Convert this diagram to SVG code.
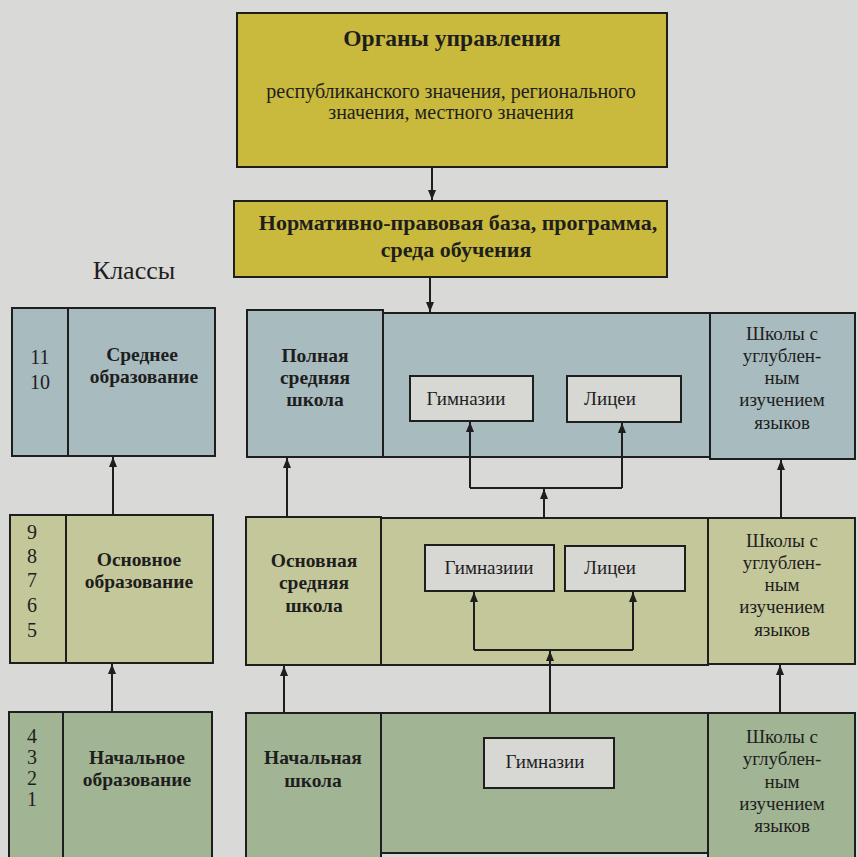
<svg xmlns="http://www.w3.org/2000/svg" width="858" height="857" viewBox="0 0 858 857" font-family="Liberation Serif, DejaVu Serif, serif">
<style>
.b{stroke:#1e1e1e;stroke-width:2}
.y{fill:#c9b93c}
.r1{fill:#a8bbbe}
.r2{fill:#c4c799}
.r3{fill:#a1b493}
.in{fill:#d7d7d4}
text{font-family:'Liberation Serif','DejaVu Serif',serif;fill:#1e1e1e;text-anchor:middle}
.t{font-weight:bold;font-size:19.5px}
.n{font-size:20px}
.s{font-size:19px}
.c{stroke:#1e1e1e;stroke-width:2;fill:none}
</style>
<defs>
<marker id="ah" markerUnits="userSpaceOnUse" markerWidth="10" markerHeight="10" viewBox="0 0 10 10" refX="10" refY="5" orient="auto">
<path d="M0,1 L10,5 L0,9 Z" fill="#1e1e1e"/>
</marker>
</defs>
<rect width="858" height="857" fill="#d9d9d7"/>

<g id="organy">
<rect class="b y" x="237" y="13" width="430" height="154"/>
<text x="452" y="46" style="font-weight:bold;font-size:23.5px">Органы управления</text>
<text x="451" y="98" class="n">республиканского значения, регионального</text>
<text x="451" y="119" class="n">значения, местного значения</text>
</g>

<g id="norm">
<rect class="b y" x="234" y="201" width="433" height="76"/>
<text x="458" y="230" class="t" style="font-size:22px">Нормативно-правовая база, программа,</text>
<text x="456" y="257" class="t" style="font-size:22px">среда обучения</text>
</g>

<g id="klassy">
<text x="134" y="279" style="font-size:26px">Классы</text>
</g>

<g id="row1-left">
<rect class="b r1" x="12" y="308" width="203" height="148"/>
<line class="b" x1="68" y1="308" x2="68" y2="456"/>
<text x="40" y="364" class="n">11</text>
<text x="40" y="389" class="n">10</text>
<text x="142" y="361" class="t">Среднее</text>
<text x="144" y="383" class="t">образование</text>
</g>

<g id="row1-polnaya">
<rect class="b r1" x="247" y="310" width="136" height="147"/>
<text x="315" y="362" class="t">Полная</text>
<text x="315" y="384" class="t">средняя</text>
<text x="315" y="406" class="t">школа</text>
</g>

<g id="row1-mid">
<rect class="b r1" x="383" y="313" width="327" height="144"/>
</g>

<g id="row1-gym">
<rect class="b in" x="410" y="376" width="123" height="45"/>
<text x="466" y="405" class="s">Гимназии</text>
</g>

<g id="row1-lyc">
<rect class="b in" x="567" y="376" width="114" height="46"/>
<text x="610" y="405" class="s">Лицеи</text>
</g>

<g id="row1-right">
<rect class="b r1" x="710" y="313" width="145" height="146"/>
<text x="782" y="340" class="s">Школы с</text>
<text x="782" y="362" class="s">углублен-</text>
<text x="782" y="384" class="s">ным</text>
<text x="782" y="406" class="s">изучением</text>
<text x="782" y="429" class="s">языков</text>
</g>

<g id="row2-left">
<rect class="b r2" x="10" y="515" width="203" height="148"/>
<line class="b" x1="66" y1="515" x2="66" y2="663"/>
<text x="32" y="539" class="n">9</text>
<text x="32" y="563" class="n">8</text>
<text x="32" y="587" class="n">7</text>
<text x="32" y="612" class="n">6</text>
<text x="32" y="637" class="n">5</text>
<text x="139" y="566" class="t">Основное</text>
<text x="139" y="588" class="t">образование</text>
</g>

<g id="row2-osn">
<rect class="b r2" x="246" y="517" width="135" height="148"/>
<text x="314" y="567" class="t">Основная</text>
<text x="314" y="589" class="t">средняя</text>
<text x="314" y="612" class="t">школа</text>
</g>

<g id="row2-mid">
<rect class="b r2" x="381" y="518" width="327" height="147"/>
</g>

<g id="row2-gym">
<rect class="b in" x="425" y="545" width="129" height="46"/>
<text x="489" y="574" class="s">Гимназиии</text>
</g>

<g id="row2-lyc">
<rect class="b in" x="565" y="546" width="120" height="45"/>
<text x="610" y="574" class="s">Лицеи</text>
</g>

<g id="row2-right">
<rect class="b r2" x="708" y="518" width="147" height="146"/>
<text x="782" y="547" class="s">Школы с</text>
<text x="782" y="569" class="s">углублен-</text>
<text x="782" y="591" class="s">ным</text>
<text x="782" y="613" class="s">изучением</text>
<text x="782" y="636" class="s">языков</text>
</g>

<g id="row3-left">
<rect class="b r3" x="9" y="712" width="203" height="150"/>
<line class="b" x1="63" y1="712" x2="63" y2="857"/>
<text x="32" y="743" class="n">4</text>
<text x="32" y="764" class="n">3</text>
<text x="32" y="785" class="n">2</text>
<text x="32" y="806" class="n">1</text>
<text x="137" y="764" class="t">Начальное</text>
<text x="137" y="786" class="t">образование</text>
</g>

<g id="row3-nach">
<rect class="b r3" x="246" y="713" width="135" height="150"/>
<text x="313" y="764" class="t">Начальная</text>
<text x="313" y="787" class="t">школа</text>
</g>

<g id="row3-mid">
<rect class="b r3" x="381" y="713" width="327" height="140"/>
</g>

<g id="row3-gym">
<rect class="b in" x="484" y="738" width="130" height="50"/>
<text x="545" y="768" class="s">Гимназии</text>
</g>

<g id="row3-right">
<rect class="b r3" x="708" y="713" width="147" height="150"/>
<text x="782" y="743" class="s">Школы с</text>
<text x="782" y="765" class="s">углублен-</text>
<text x="782" y="788" class="s">ным</text>
<text x="782" y="810" class="s">изучением</text>
<text x="782" y="832" class="s">языков</text>
</g>

<g id="connectors">
<path class="c" d="M432,167 V200" marker-end="url(#ah)"/>
<path class="c" d="M430,277 V312" marker-end="url(#ah)"/>
<path class="c" d="M113,515 V457" marker-end="url(#ah)"/>
<path class="c" d="M287,517 V458" marker-end="url(#ah)"/>
<path class="c" d="M544,517 V489" marker-end="url(#ah)"/>
<path class="c" d="M470,488 H622"/>
<path class="c" d="M470,488 V422" marker-end="url(#ah)"/>
<path class="c" d="M622,488 V423" marker-end="url(#ah)"/>
<path class="c" d="M781,518 V460" marker-end="url(#ah)"/>
<path class="c" d="M112,712 V664" marker-end="url(#ah)"/>
<path class="c" d="M284,713 V666" marker-end="url(#ah)"/>
<path class="c" d="M550,713 V651" marker-end="url(#ah)"/>
<path class="c" d="M474,650 H633"/>
<path class="c" d="M474,650 V592" marker-end="url(#ah)"/>
<path class="c" d="M633,650 V592" marker-end="url(#ah)"/>
<path class="c" d="M780,713 V665" marker-end="url(#ah)"/>
</g>
</svg>
